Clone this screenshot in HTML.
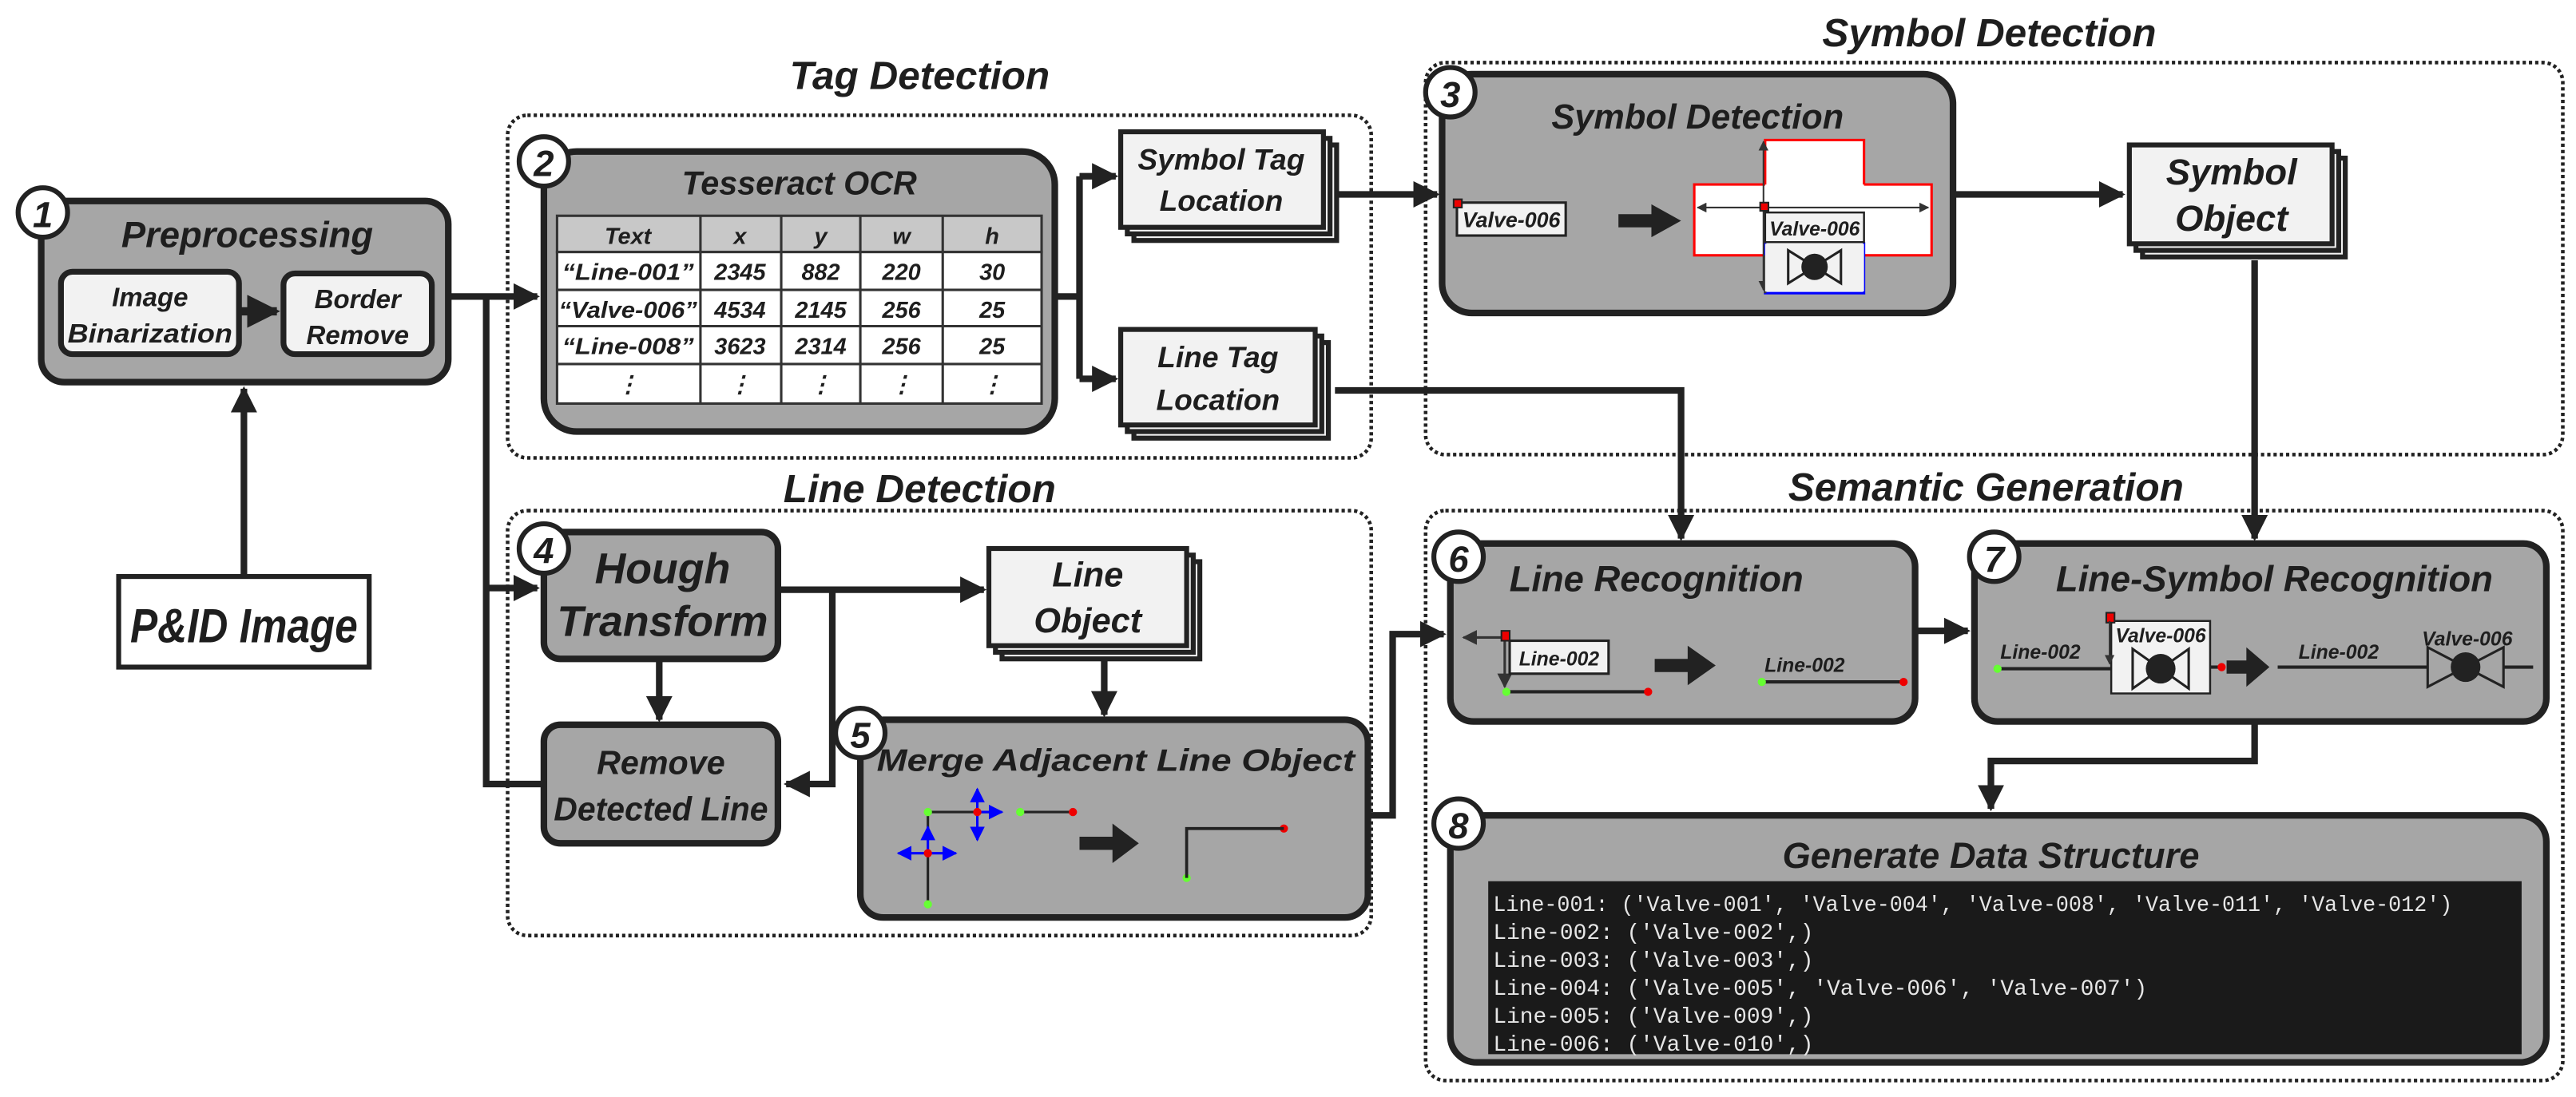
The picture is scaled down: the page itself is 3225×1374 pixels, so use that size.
<!DOCTYPE html>
<html><head><meta charset="utf-8"><style>
html,body{margin:0;padding:0;background:#fff;width:3225px;height:1374px;overflow:hidden}
svg{display:block}
text{font-family:"Liberation Sans",sans-serif;font-style:italic;font-weight:bold;fill:#1e1e1e}
.mono{font-family:"Liberation Mono",monospace;font-style:normal;font-weight:normal;fill:#e6e6e6}
</style></head><body>
<svg width="3225" height="1374" viewBox="0 0 1563 666" preserveAspectRatio="none" xmlns="http://www.w3.org/2000/svg">
<defs>
<marker id="ah" viewBox="0 0 10 10" refX="9" refY="5" markerWidth="4" markerHeight="4" orient="auto-start-reverse" markerUnits="strokeWidth">
<path d="M0,0 L10,5 L0,10 z" fill="#222"/></marker>
<marker id="sa" viewBox="0 0 10 10" refX="9" refY="5" markerWidth="6" markerHeight="6" orient="auto-start-reverse" markerUnits="strokeWidth">
<path d="M0,0 L10,5 L0,10 z" fill="#333"/></marker>
<marker id="ba" viewBox="0 0 10 10" refX="9" refY="5" markerWidth="6" markerHeight="6" orient="auto-start-reverse" markerUnits="strokeWidth">
<path d="M0,0 L10,5 L0,10 z" fill="#00f"/></marker>
</defs>

<g fill="none" stroke="#222" stroke-width="2.2" stroke-dasharray="2 1.8">
<rect x="308" y="70" width="524" height="208" rx="12"/>
<rect x="308" y="310" width="524" height="258" rx="12"/>
<rect x="865" y="38" width="690" height="238" rx="12"/>
<rect x="865" y="310" width="690" height="346" rx="12"/>
</g>
<text x="558" y="54" font-size="24" text-anchor="middle">Tag Detection</text>
<text x="558" y="305" font-size="24" text-anchor="middle">Line Detection</text>
<text x="1207" y="28" font-size="24" text-anchor="middle">Symbol Detection</text>
<text x="1205" y="304" font-size="24" text-anchor="middle">Semantic Generation</text>

<g fill="none" stroke="#222" stroke-width="4">
<line x1="148" y1="350" x2="148" y2="236" marker-end="url(#ah)"/>
<polyline points="272,180 326,180" marker-end="url(#ah)"/>
<polyline points="295,180 295,476 330,476"/>
<polyline points="295,357 326,357" marker-end="url(#ah)"/>
<polyline points="640,180 655,180"/>
<polyline points="655,107 655,230"/>
<polyline points="655,107 677,107" marker-end="url(#ah)"/>
<polyline points="655,230 677,230" marker-end="url(#ah)"/>
<polyline points="810,118 872,118" marker-end="url(#ah)"/>
<polyline points="810,237 1020,237 1020,327" marker-end="url(#ah)"/>
<polyline points="1185,118 1288,118" marker-end="url(#ah)"/>
<polyline points="1368,158 1368,327" marker-end="url(#ah)"/>
<polyline points="472,358 597,358" marker-end="url(#ah)"/>
<polyline points="505,358 505,476 477,476" marker-end="url(#ah)"/>
<polyline points="400,400 400,437" marker-end="url(#ah)"/>
<polyline points="670,400 670,434" marker-end="url(#ah)"/>
<polyline points="830,495 845,495 845,385 876,385" marker-end="url(#ah)"/>
<polyline points="1162,383 1194,383" marker-end="url(#ah)"/>
<polyline points="1368,438 1368,462 1208,462 1208,491" marker-end="url(#ah)"/>
</g>

<rect x="72" y="350" width="152" height="55" fill="#fff" stroke="#222" stroke-width="3"/>
<text x="148" y="390" font-size="29" text-anchor="middle" textLength="138" lengthAdjust="spacingAndGlyphs">P&amp;ID Image</text>

<rect x="25" y="122" width="247" height="110" rx="14" fill="#a6a6a6" stroke="#222" stroke-width="4"/>
<text x="150" y="150" font-size="22" text-anchor="middle">Preprocessing</text>
<rect x="37" y="165" width="108" height="50" rx="7" fill="#f2f2f2" stroke="#222" stroke-width="3.5"/>
<text x="91" y="186" font-size="16" text-anchor="middle">Image</text>
<text x="91" y="208" font-size="16" text-anchor="middle" textLength="100" lengthAdjust="spacingAndGlyphs">Binarization</text>
<rect x="172" y="166" width="90" height="49" rx="7" fill="#f2f2f2" stroke="#222" stroke-width="3.5"/>
<text x="217" y="187" font-size="16" text-anchor="middle">Border</text>
<text x="217" y="209" font-size="16" text-anchor="middle">Remove</text>
<line x1="146" y1="189" x2="168" y2="189" stroke="#222" stroke-width="5" marker-end="url(#ah)"/>
<circle cx="26" cy="129" r="15" fill="#fff" stroke="#222" stroke-width="3"/>
<text x="26" y="138" font-size="22" text-anchor="middle" font-style="normal">1</text>

<rect x="330" y="92" width="310" height="170" rx="20" fill="#a6a6a6" stroke="#222" stroke-width="4"/>
<text x="485" y="118" font-size="20" text-anchor="middle">Tesseract OCR</text>
<rect x="338" y="131" width="294" height="22" fill="#c8c8c8" stroke="#333" stroke-width="1.5"/>
<rect x="338" y="153" width="294" height="92" fill="#fff" stroke="#333" stroke-width="1.5"/>
<g stroke="#333" stroke-width="1.5">
<line x1="425" y1="131" x2="425" y2="245"/><line x1="474" y1="131" x2="474" y2="245"/>
<line x1="522" y1="131" x2="522" y2="245"/><line x1="572" y1="131" x2="572" y2="245"/>
<line x1="338" y1="176" x2="632" y2="176"/><line x1="338" y1="198" x2="632" y2="198"/><line x1="338" y1="221" x2="632" y2="221"/>
</g>
<g font-size="14" text-anchor="middle">
<text x="381" y="148">Text</text><text x="449" y="148">x</text><text x="498" y="148">y</text><text x="547" y="148">w</text><text x="602" y="148">h</text>
<text x="381" y="170" textLength="80" lengthAdjust="spacingAndGlyphs">“Line-001”</text><text x="449" y="170">2345</text><text x="498" y="170">882</text><text x="547" y="170">220</text><text x="602" y="170">30</text>
<text x="381" y="193" textLength="84" lengthAdjust="spacingAndGlyphs">“Valve-006”</text><text x="449" y="193">4534</text><text x="498" y="193">2145</text><text x="547" y="193">256</text><text x="602" y="193">25</text>
<text x="381" y="215" textLength="80" lengthAdjust="spacingAndGlyphs">“Line-008”</text><text x="449" y="215">3623</text><text x="498" y="215">2314</text><text x="547" y="215">256</text><text x="602" y="215">25</text>
<text x="381" y="238">⋮</text><text x="449" y="238">⋮</text><text x="498" y="238">⋮</text><text x="547" y="238">⋮</text><text x="602" y="238">⋮</text>
</g>
<circle cx="330" cy="98" r="15" fill="#fff" stroke="#222" stroke-width="3"/>
<text x="330" y="107" font-size="22" text-anchor="middle" font-style="normal">2</text>

<g fill="#f2f2f2" stroke="#222" stroke-width="3">
<rect x="688" y="88" width="123" height="58"/><rect x="684" y="84" width="123" height="58"/><rect x="680" y="80" width="123" height="58"/>
<rect x="688" y="208" width="118" height="58"/><rect x="684" y="204" width="118" height="58"/><rect x="680" y="200" width="118" height="58"/>
<rect x="1300" y="96" width="123" height="60"/><rect x="1296" y="92" width="123" height="60"/><rect x="1292" y="88" width="123" height="60"/>
<rect x="608" y="341" width="120" height="59"/><rect x="604" y="337" width="120" height="59"/><rect x="600" y="333" width="120" height="59"/>
</g>
<text x="741" y="103" font-size="18" text-anchor="middle">Symbol Tag</text>
<text x="741" y="128" font-size="18" text-anchor="middle">Location</text>
<text x="739" y="223" font-size="18" text-anchor="middle">Line Tag</text>
<text x="739" y="249" font-size="18" text-anchor="middle">Location</text>
<text x="1354" y="112" font-size="22" text-anchor="middle">Symbol</text>
<text x="1354" y="140" font-size="22" text-anchor="middle">Object</text>
<text x="660" y="356" font-size="21" text-anchor="middle">Line</text>
<text x="660" y="384" font-size="21" text-anchor="middle">Object</text>

<rect x="875" y="45" width="310" height="145" rx="18" fill="#a6a6a6" stroke="#222" stroke-width="4"/>
<text x="1030" y="78" font-size="21" text-anchor="middle">Symbol Detection</text>
<rect x="884" y="123" width="66" height="20" fill="#f2f2f2" stroke="#222" stroke-width="1.5"/>
<rect x="882" y="121" width="5" height="5" fill="#e00" stroke="#222" stroke-width="1"/>
<text x="917" y="138" font-size="13" text-anchor="middle" font-weight="normal">Valve-006</text>
<polygon points="982,130 1002,130 1002,124 1020,134 1002,144 1002,138 982,138" fill="#222"/>
<rect x="1028" y="112" width="144" height="43" fill="#fff" stroke="#f00" stroke-width="1.5"/>
<rect x="1071" y="85" width="60" height="93" fill="#fff" stroke="none"/>
<polyline points="1071,112 1071,85 1131,85 1131,112" fill="none" stroke="#f00" stroke-width="1.5"/>
<polyline points="1071,147 1071,178 1131,178 1131,147" fill="none" stroke="#00f" stroke-width="1.5"/>
<line x1="1071" y1="155" x2="1071" y2="178" stroke="#333" stroke-width="1.5"/>
<line x1="1070" y1="126" x2="1070" y2="86" stroke="#333" stroke-width="1" marker-end="url(#sa)"/>
<line x1="1070" y1="126" x2="1070" y2="176" stroke="#333" stroke-width="1" marker-end="url(#sa)"/>
<line x1="1070" y1="126" x2="1030" y2="126" stroke="#333" stroke-width="1" marker-end="url(#sa)"/>
<line x1="1070" y1="126" x2="1170" y2="126" stroke="#333" stroke-width="1" marker-end="url(#sa)"/>
<rect x="1071" y="129" width="60" height="18" fill="#f2f2f2" stroke="#222" stroke-width="1.2"/>
<text x="1101" y="143" font-size="12" text-anchor="middle" font-weight="normal">Valve-006</text>
<rect x="1068" y="123" width="5" height="5" fill="#e00" stroke="#222" stroke-width="1"/>
<rect x="1071" y="148" width="60" height="29" fill="#f2f2f2" stroke="none"/>
<path d="M1085,152 L1085,172 L1117,152 L1117,172 Z" fill="none" stroke="#222" stroke-width="1.5"/>
<circle cx="1101" cy="162" r="8" fill="#222"/>
<circle cx="880" cy="56" r="15" fill="#fff" stroke="#222" stroke-width="3"/>
<text x="880" y="65" font-size="22" text-anchor="middle" font-style="normal">3</text>

<rect x="330" y="323" width="142" height="77" rx="10" fill="#a6a6a6" stroke="#222" stroke-width="4"/>
<text x="402" y="354" font-size="26" text-anchor="middle">Hough</text>
<text x="402" y="386" font-size="26" text-anchor="middle" textLength="128" lengthAdjust="spacingAndGlyphs">Transform</text>
<circle cx="330" cy="333" r="15" fill="#fff" stroke="#222" stroke-width="3"/>
<text x="330" y="342" font-size="22" text-anchor="middle" font-style="normal">4</text>
<rect x="330" y="440" width="142" height="72" rx="10" fill="#a6a6a6" stroke="#222" stroke-width="4"/>
<text x="401" y="470" font-size="20" text-anchor="middle">Remove</text>
<text x="401" y="498" font-size="20" text-anchor="middle" textLength="130" lengthAdjust="spacingAndGlyphs">Detected Line</text>

<rect x="522" y="437" width="308" height="120" rx="14" fill="#a6a6a6" stroke="#222" stroke-width="4"/>
<text x="677" y="468" font-size="19" text-anchor="middle" textLength="290" lengthAdjust="spacingAndGlyphs">Merge Adjacent Line Object</text>
<g stroke="#222" stroke-width="1.5"><line x1="563" y1="493" x2="600" y2="493"/><line x1="619" y1="493" x2="651" y2="493"/><line x1="563" y1="493" x2="563" y2="505"/><line x1="563" y1="518" x2="563" y2="549"/></g>
<g stroke="#00f" stroke-width="1.5">
<line x1="593" y1="493" x2="593" y2="479" marker-end="url(#ba)"/><line x1="593" y1="493" x2="593" y2="510" marker-end="url(#ba)"/><line x1="593" y1="493" x2="608" y2="493" marker-end="url(#ba)"/>
<line x1="563" y1="518" x2="563" y2="502" marker-end="url(#ba)"/><line x1="563" y1="518" x2="545" y2="518" marker-end="url(#ba)"/><line x1="563" y1="518" x2="580" y2="518" marker-end="url(#ba)"/>
</g>
<g fill="#6f3"><circle cx="563" cy="493" r="2.5"/><circle cx="619" cy="493" r="2.5"/><circle cx="563" cy="549" r="2.5"/><circle cx="720" cy="533" r="2.5"/></g>
<g fill="#e00"><circle cx="593" cy="493" r="2.5"/><circle cx="651" cy="493" r="2.5"/><circle cx="563" cy="518" r="2.5"/><circle cx="779" cy="503" r="2.5"/></g>
<polyline points="720,533 720,503 779,503" fill="none" stroke="#222" stroke-width="1.8"/>
<polygon points="655,508 675,508 675,500 691,512 675,524 675,516 655,516" fill="#222"/>
<circle cx="522" cy="445" r="15" fill="#fff" stroke="#222" stroke-width="3"/>
<text x="522" y="454" font-size="22" text-anchor="middle" font-style="normal">5</text>

<rect x="880" y="330" width="282" height="108" rx="14" fill="#a6a6a6" stroke="#222" stroke-width="4"/>
<text x="1005" y="359" font-size="22" text-anchor="middle">Line Recognition</text>
<line x1="913" y1="387" x2="888" y2="387" stroke="#333" stroke-width="1.5" marker-end="url(#sa)"/>
<line x1="913" y1="387" x2="913" y2="417" stroke="#333" stroke-width="1.5" marker-end="url(#sa)"/>
<rect x="916" y="389" width="60" height="20" fill="#f2f2f2" stroke="#222" stroke-width="1.5"/>
<text x="946" y="404" font-size="12" text-anchor="middle" font-weight="normal">Line-002</text>
<rect x="911" y="383" width="5" height="6" fill="#e00" stroke="#222" stroke-width="1"/>
<line x1="914" y1="420" x2="1000" y2="420" stroke="#222" stroke-width="2"/>
<circle cx="914" cy="420" r="2.5" fill="#6f3"/><circle cx="1000" cy="420" r="2.5" fill="#e00"/>
<polygon points="1004,400 1024,400 1024,392 1041,404 1024,416 1024,408 1004,408" fill="#222"/>
<text x="1095" y="408" font-size="12" text-anchor="middle" font-weight="normal">Line-002</text>
<line x1="1069" y1="414" x2="1155" y2="414" stroke="#222" stroke-width="2"/>
<circle cx="1069" cy="414" r="2.5" fill="#6f3"/><circle cx="1155" cy="414" r="2.5" fill="#e00"/>
<circle cx="885" cy="338" r="15" fill="#fff" stroke="#222" stroke-width="3"/>
<text x="885" y="347" font-size="22" text-anchor="middle" font-style="normal">6</text>

<rect x="1198" y="330" width="347" height="108" rx="14" fill="#a6a6a6" stroke="#222" stroke-width="4"/>
<text x="1380" y="359" font-size="22" text-anchor="middle">Line-Symbol Recognition</text>
<text x="1238" y="400" font-size="12" text-anchor="middle" font-weight="normal">Line-002</text>
<line x1="1212" y1="406" x2="1281" y2="406" stroke="#222" stroke-width="2"/>
<circle cx="1212" cy="406" r="2.5" fill="#6f3"/>
<rect x="1281" y="377" width="60" height="44" fill="#f2f2f2" stroke="#222" stroke-width="1.2"/>
<text x="1311" y="390" font-size="12" text-anchor="middle" font-weight="normal">Valve-006</text>
<rect x="1278" y="372" width="5" height="6" fill="#e00" stroke="#222" stroke-width="1"/>
<line x1="1280" y1="377" x2="1280" y2="403" stroke="#333" stroke-width="1" marker-end="url(#sa)"/>
<path d="M1294,394 L1294,418 L1328,394 L1328,418 Z" fill="none" stroke="#222" stroke-width="1.5"/>
<circle cx="1311" cy="406" r="9" fill="#222"/>
<line x1="1341" y1="405" x2="1347" y2="405" stroke="#222" stroke-width="2"/>
<circle cx="1348" cy="405" r="2.5" fill="#e00"/>
<polygon points="1351,401 1363,401 1363,393 1377,405 1363,417 1363,409 1351,409" fill="#222"/>
<text x="1419" y="400" font-size="12" text-anchor="middle" font-weight="normal">Line-002</text>
<text x="1497" y="392" font-size="12" text-anchor="middle" font-weight="normal">Valve-006</text>
<line x1="1382" y1="405" x2="1473" y2="405" stroke="#222" stroke-width="2"/>
<line x1="1519" y1="405" x2="1537" y2="405" stroke="#222" stroke-width="2"/>
<path d="M1473,393 L1473,417 L1519,393 L1519,417 Z" fill="none" stroke="#222" stroke-width="1.5"/>
<circle cx="1496" cy="405" r="9" fill="#222"/>
<circle cx="1210" cy="338" r="15" fill="#fff" stroke="#222" stroke-width="3"/>
<text x="1210" y="347" font-size="22" text-anchor="middle" font-style="normal">7</text>

<rect x="880" y="495" width="665" height="150" rx="16" fill="#a6a6a6" stroke="#222" stroke-width="4"/>
<text x="1208" y="527" font-size="22" text-anchor="middle">Generate Data Structure</text>
<rect x="903" y="535" width="627" height="105" fill="#1a1a1a"/>
<g font-size="13.5">
<text class="mono" x="906" y="553" textLength="582" lengthAdjust="spacingAndGlyphs">Line-001: ('Valve-001', 'Valve-004', 'Valve-008', 'Valve-011', 'Valve-012')</text>
<text class="mono" x="906" y="570">Line-002: ('Valve-002',)</text>
<text class="mono" x="906" y="587">Line-003: ('Valve-003',)</text>
<text class="mono" x="906" y="604">Line-004: ('Valve-005', 'Valve-006', 'Valve-007')</text>
<text class="mono" x="906" y="621">Line-005: ('Valve-009',)</text>
<text class="mono" x="906" y="638">Line-006: ('Valve-010',)</text>
</g>
<circle cx="885" cy="500" r="15" fill="#fff" stroke="#222" stroke-width="3"/>
<text x="885" y="509" font-size="22" text-anchor="middle" font-style="normal">8</text>
</svg>
</body></html>
